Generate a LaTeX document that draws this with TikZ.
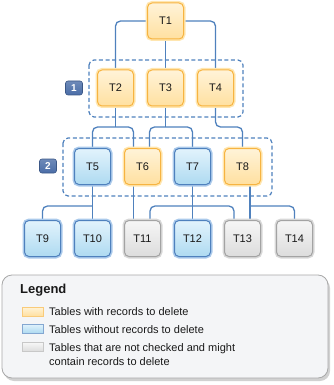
\documentclass[tikz,border=0pt]{standalone}
\usepackage{fontspec}
\setmainfont{Liberation Sans}
\usetikzlibrary{backgrounds,shadows}
\definecolor{otop}{HTML}{FFF3D8}
\definecolor{obot}{HTML}{FFE0A0}
\definecolor{obord}{HTML}{F7B441}
\definecolor{ohalo}{HTML}{FFE6B0}
\definecolor{btop}{HTML}{E2F3FC}
\definecolor{bbot}{HTML}{AEDAF1}
\definecolor{bbord}{HTML}{4F81BD}
\definecolor{bhalo}{HTML}{ABCAEB}
\definecolor{gtop}{HTML}{F6F6F6}
\definecolor{gbot}{HTML}{DCDCDC}
\definecolor{gbord}{HTML}{A3A3A3}
\definecolor{ghalo}{HTML}{D8D8D8}
\definecolor{connc}{HTML}{4F81BD}
\definecolor{lblc}{HTML}{4A6DA7}
\definecolor{lgfill}{HTML}{F4F5F7}
\definecolor{lgbord}{HTML}{A8A8A8}
\begin{document}
\begin{tikzpicture}[x=1pt,y=-1pt,
  tbl/.style={rounded corners=4.5pt, minimum width=36pt, minimum height=36pt, inner sep=0pt,
    line width=1pt, font=\fontsize{11}{13}\selectfont, text=black!90},
  obox/.style={tbl, draw=obord, top color=otop, bottom color=obot, preaction={draw=ohalo, line width=4pt}},
  bbox/.style={tbl, draw=bbord, top color=btop, bottom color=bbot, preaction={draw=bhalo, line width=4pt}},
  gbox/.style={tbl, draw=gbord, top color=gtop, bottom color=gbot, preaction={draw=ghalo, line width=4pt}},
  conn/.style={draw=connc, line width=1.3pt, rounded corners=5pt},
  grp/.style={draw=connc, line width=1.2pt, dash pattern=on 4pt off 2.6pt, rounded corners=5pt},
  numlbl/.style={draw=lblc!80!black, line width=0.6pt, top color=lblc!80, bottom color=lblc, rounded corners=2.5pt,
    minimum width=17pt, minimum height=14pt, inner sep=0pt, text=white, font=\bfseries\fontsize{10}{12}\selectfont},
  legendbox/.style={draw=lgbord, line width=0.8pt, fill=lgfill, rounded corners=10pt,
    minimum width=326pt, minimum height=103pt, inner sep=0pt,
    drop shadow={shadow xshift=2pt, shadow yshift=-3pt, fill=black!30, opacity=0.6}},
  swatch/.style={minimum width=21pt, minimum height=9pt, inner sep=0pt, line width=0.6pt},
  lgtext/.style={anchor=west, inner sep=0pt, font=\fontsize{11}{14}\selectfont, text=black!90, align=left}
]
\useasboundingbox (0,0) rectangle (333,385);

% tables
\node[obox] (T1) at (165.5,21) {T1};
\node[obox] (T2) at (115.5,88) {T2};
\node[obox] (T3) at (165.5,88) {T3};
\node[obox] (T4) at (215.5,88) {T4};
\node[bbox] (T5) at (92.5,166.5) {T5};
\node[obox] (T6) at (142.5,166.5) {T6};
\node[bbox] (T7) at (192.5,166.5) {T7};
\node[obox] (T8) at (242.5,166.5) {T8};
\node[bbox] (T9) at (42.5,238.5) {T9};
\node[bbox] (T10) at (92.5,238.5) {T10};
\node[gbox] (T11) at (142.5,238.5) {T11};
\node[bbox] (T12) at (192.5,238.5) {T12};
\node[gbox] (T13) at (242.5,238.5) {T13};
\node[gbox] (T14) at (294.5,238.5) {T14};

% step labels
\node[numlbl] (n1) at (74,88) {1};
\node[numlbl] (n2) at (48,166) {2};

\coordinate (a2) at (115.5,127);
\coordinate (a3) at (165.5,127);
\coordinate (a4) at (215.5,127);
\coordinate (b5) at (92.5,206);
\coordinate (b7) at (192.5,206);
\coordinate (b8) at (250,206);

\begin{pgfonlayer}{background}
\draw[grp] (89,60) rectangle (243,117);
\draw[grp] (63,138) rectangle (272,196);
\draw[conn] (T1.west) -| (T2.north);
\draw[conn] (T1.south) -- (T3.north);
\draw[conn] (T1.east) -| (T4.north);
\draw[conn] (T2.south) -- (a2);
\draw[conn] (T5.north) |- (a2) -| ([xshift=-9pt]T6.north);
\draw[conn] (T3.south) -- (a3);
\draw[conn] ([xshift=7pt]T6.north) |- (a3) -| (T7.north);
\draw[conn] (T4.south) -- (a4) -| (T8.north);
\draw[conn] (T5.south) -- (T10.north);
\draw[conn] (b5) -| (T9.north);
\draw[conn] ([xshift=-9pt]T6.south) -- ([xshift=-9pt]T11.north);
\draw[conn] (T7.south) -- (T12.north);
\draw[conn] ([xshift=7.5pt]T11.north) |- (b7) -| ([xshift=-8.5pt]T13.north);
\draw[conn] ([xshift=7.5pt]T8.south) -- ([xshift=7.5pt]T13.north);
\draw[conn] (b8) -| (T14.north);
\end{pgfonlayer}

% legend
\node[legendbox] (lg) at (165,326.5) {};
\node[anchor=west, inner sep=0pt, font=\bfseries\fontsize{13}{15}\selectfont, text=black!90] (lgt) at (20,290) {Legend};
\node[swatch, draw=obord!70, top color=otop, bottom color=obot] (s1) at (32.5,311.5) {};
\node[swatch, draw=bbord!70, top color=btop, bottom color=bbot] (s2) at (32.5,328.5) {};
\node[swatch, draw=gbord!60, top color=gtop, bottom color=gbot] (s3) at (32.5,347) {};
\node[lgtext] (l1) at (49,312) {Tables with records to delete};
\node[lgtext] (l2) at (49,330) {Tables without records to delete};
\node[lgtext] (l3) at (49,355) {Tables that are not checked and might\\contain records to delete};
\end{tikzpicture}
\end{document}
